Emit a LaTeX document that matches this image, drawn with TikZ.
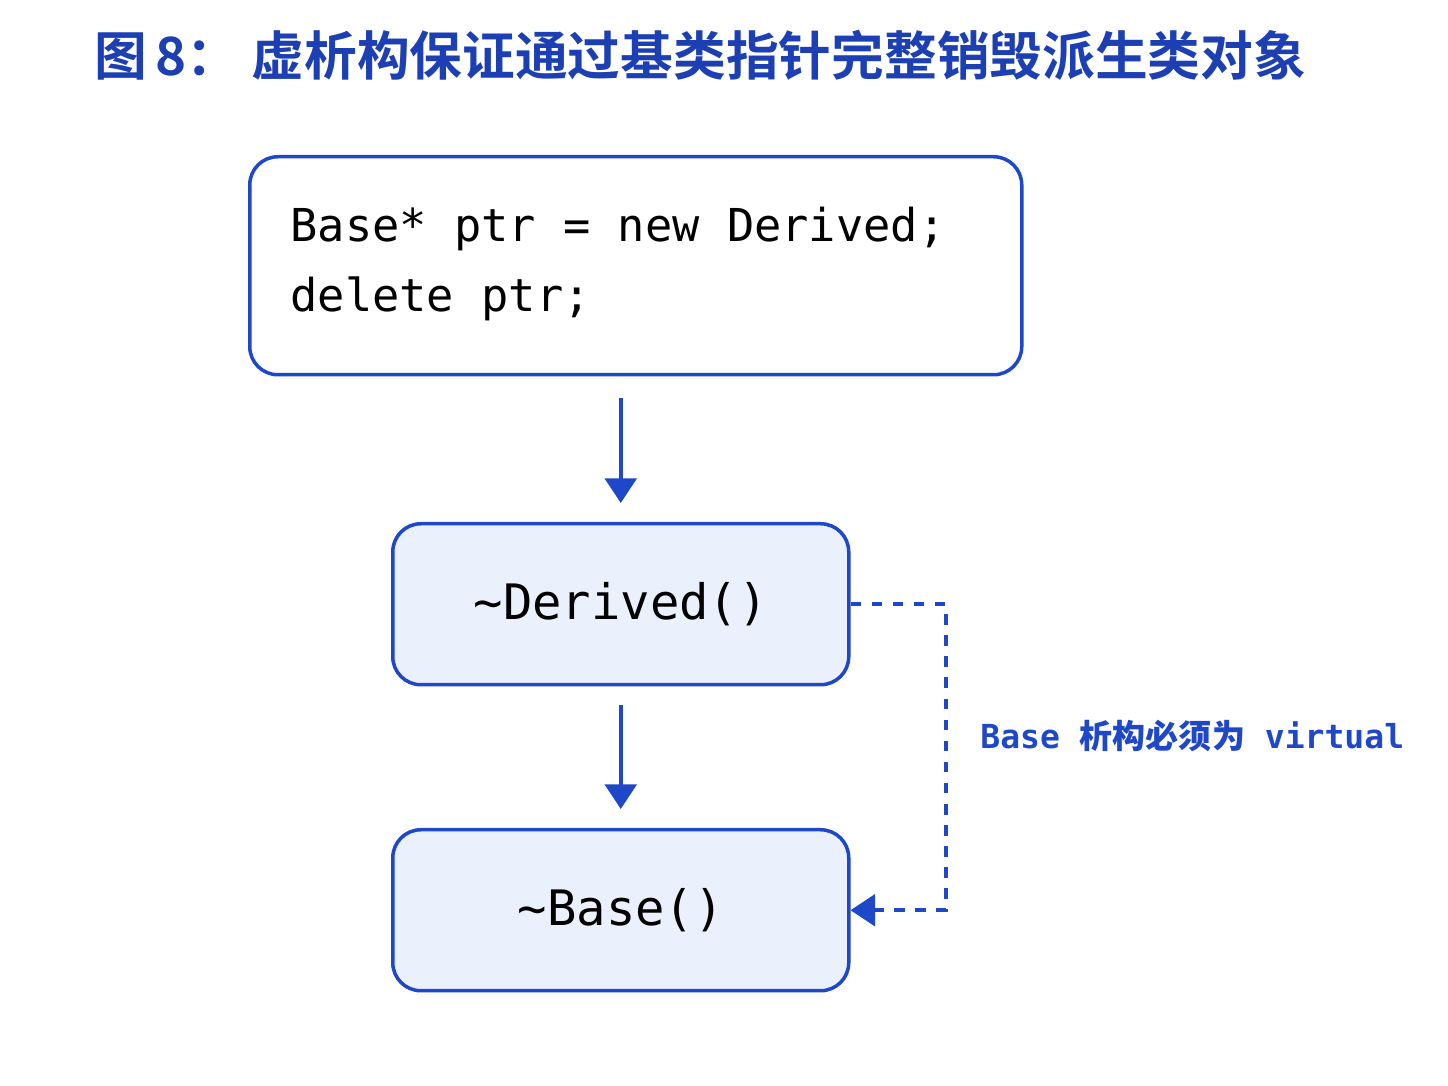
\documentclass[tikz,border=0pt]{standalone}
\usepackage{fontspec}
\setmainfont{DejaVu Sans Mono}
\newfontfamily\cjk{Noto Sans CJK SC}
\newfontfamily\cjkbold{Noto Sans CJK SC Bold}
\usetikzlibrary{positioning, arrows.meta}
\definecolor{themeBlue}{RGB}{30, 72, 200}
\definecolor{themeTitle}{RGB}{28, 64, 180}
\definecolor{themeFill}{RGB}{235, 241, 252}
\begin{document}
\begin{tikzpicture} [
        x=1cm, y=1cm,
        box/.style={draw=themeBlue, line width=1pt, rounded corners=8pt, anchor=north west},
        call/.style={box, fill=themeFill, minimum width=4.56cm, minimum height=1.61cm, font=\fontsize{13.9}{16}\selectfont},
        flow/.style={draw=themeBlue, line width=1pt, -{Triangle[length=7pt, width=9pt]}, shorten >=0.19cm},
        note/.style={draw=themeBlue, line width=1pt, dashed, -{Triangle[length=7pt, width=9pt]}},
    ]
    \useasboundingbox (0,0) rectangle (14.48,10.86);

    % title
    \node[anchor=west, text=themeTitle, font=\cjkbold\fontsize{15}{18}\selectfont] (title) at (0.82,10.31) {图\,8： 虚析构保证通过基类指针完整销毁派生类对象};

    % code
    \node[box, fill=white, minimum width=7.72cm, minimum height=2.18cm] (code) at (2.48,9.31) {};
    \node[anchor=west, align=left, font=\fontsize{12.9}{20}\selectfont] (lines) at (2.78,8.22) {Base* ptr = new Derived;\\delete ptr;};

    % destructor calls
    \node[call] (derived) at (3.91,5.64) {\textasciitilde Derived()};
    \node[call] (base) at (3.91,2.58) {\textasciitilde Base()};

    \coordinate (top) at (6.19,6.88);
    \coordinate (mid) at (6.19,3.81);
    \draw[flow] (derived.north |- top) -- (derived.north);
    \draw[flow] (base.north |- mid) -- (base.north);

    \draw[note] (derived.east) -| (9.46,4.5) |- (base.east);
    \node[anchor=west, text=themeBlue, font=\bfseries\fontsize{9.4}{11}\selectfont] (hint) at (9.68,3.5) {Base {\cjkbold 析构必须为} virtual};
\end{tikzpicture}
\end{document}
